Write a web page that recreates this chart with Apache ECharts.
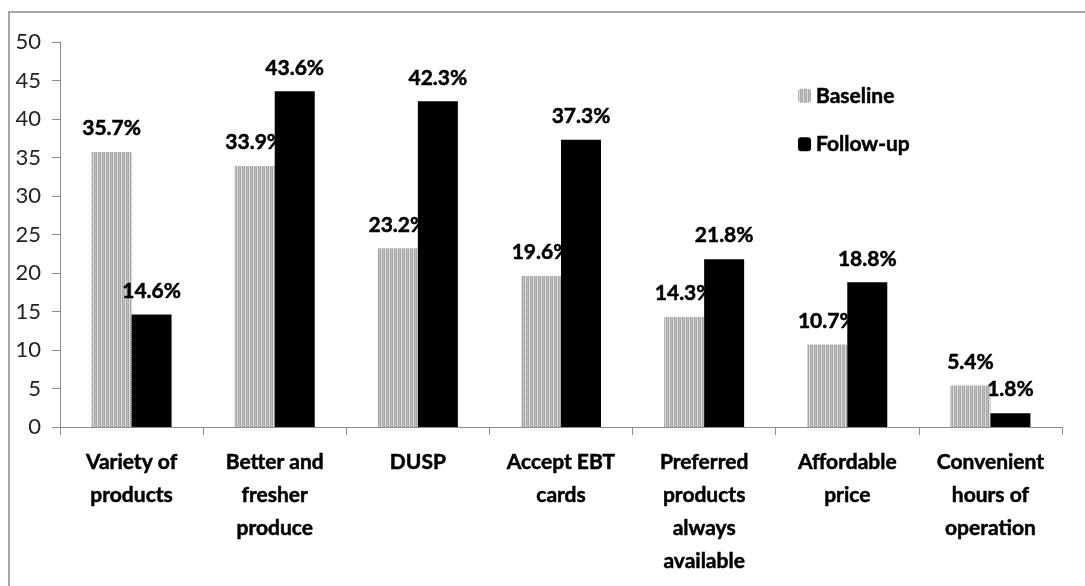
<!DOCTYPE html>
<html>
<head>
<meta charset="utf-8">
<script src="https://cdn.jsdelivr.net/npm/echarts@6/dist/echarts.min.js"></script>
<style>
  html, body { margin: 0; padding: 0; background: #fff; }
  #chart { width: 1085px; height: 586px; }
</style>
</head>
<body>
<div id="chart"></div>
<script>
const categories = [
  "Variety of\nproducts",
  "Better and\nfresher\nproduce",
  "DUSP",
  "Accept EBT\ncards",
  "Preferred\nproducts\nalways\navailable",
  "Affordable\nprice",
  "Convenient\nhours of\noperation"
];
const baseline = [35.7, 33.9, 23.2, 19.6, 14.3, 10.7, 5.4];
const followUp = [14.6, 43.6, 42.3, 37.3, 21.8, 18.8, 1.8];
const yTicks = { min: 0, max: 50, interval: 5 };

// dotted grey texture for the baseline bars
function makePattern() {
  const c = document.createElement("canvas");
  c.width = 4; c.height = 2;
  const ctx = c.getContext("2d");
  ctx.fillStyle = "#bdbdbd";
  ctx.fillRect(0, 0, 4, 2);
  ctx.fillStyle = "#939393";
  ctx.fillRect(0, 0, 1, 1);
  ctx.fillRect(2, 1, 1, 1);
  ctx.fillStyle = "#dedede";
  ctx.fillRect(1, 0, 1, 2);
  return c;
}
const pattern = { image: makePattern(), repeat: "repeat" };

const font = "Lato, 'Open Sans', sans-serif";
const heavy = { textBorderColor: "#000", textBorderWidth: 0.5 };
const labelStyle = {
  show: true,
  position: "top",
  distance: 13,
  formatter: p => p.value.toFixed(1) + "%",
  fontFamily: font,
  fontWeight: "bold",
  fontSize: 21,
  color: "#000",
  ...heavy
};

const chart = echarts.init(document.getElementById("chart"));
chart.setOption({
  animation: false,
  backgroundColor: "#fff",
  graphic: [{
    type: "rect",
    shape: { x: 9, y: 12, width: 1100, height: 600 },
    style: { fill: "none", stroke: "#a6a6a6", lineWidth: 2 },
    silent: true
  }],
  grid: { left: 60, right: 23, top: 42, bottom: 159 },
  legend: {
    orient: "vertical",
    left: 793,
    top: 80,
    itemWidth: 13,
    itemHeight: 14,
    itemGap: 27,
    textStyle: { fontFamily: font, fontWeight: "bold", fontSize: 21, color: "#000", ...heavy },
    data: ["Baseline", "Follow-up"]
  },
  xAxis: {
    type: "category",
    data: categories,
    axisLine: { lineStyle: { color: "#8c8c8c", width: 1 } },
    axisTick: { show: true, length: 8, lineStyle: { color: "#8c8c8c" } },
    axisLabel: {
      interval: 0,
      margin: 19,
      lineHeight: 33,
      fontFamily: font,
      fontWeight: "bold",
      fontSize: 21,
      color: "#000",
      ...heavy
    }
  },
  yAxis: {
    type: "value",
    min: yTicks.min,
    max: yTicks.max,
    interval: yTicks.interval,
    splitLine: { show: false },
    axisLine: { show: true, lineStyle: { color: "#8c8c8c" } },
    axisTick: { show: true, length: 8, lineStyle: { color: "#8c8c8c" } },
    axisLabel: {
      margin: 19,
      fontFamily: font,
      fontSize: 22,
      color: "#222"
    }
  },
  series: [
    {
      name: "Baseline",
      type: "bar",
      data: baseline,
      barWidth: 40,
      barGap: "0%",
      itemStyle: { color: pattern },
      label: labelStyle
    },
    {
      name: "Follow-up",
      type: "bar",
      data: followUp,
      barWidth: 40,
      itemStyle: { color: "#000" },
      label: labelStyle
    }
  ]
});
</script>
</body>
</html>
